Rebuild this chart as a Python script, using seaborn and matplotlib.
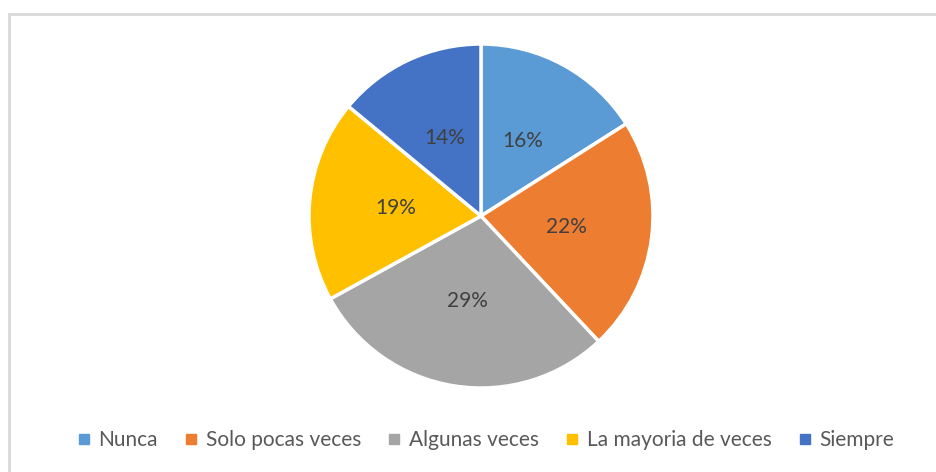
import matplotlib
matplotlib.use("Agg")
import matplotlib.pyplot as plt
import seaborn as sns
from matplotlib.patches import Rectangle
from matplotlib.lines import Line2D

# chart data
categories = ["Nunca", "Solo pocas veces", "Algunas veces", "La mayoria de veces", "Siempre"]
values = [16, 22, 29, 19, 14]
colors = ["#5B9BD5", "#ED7D31", "#A5A5A5", "#FFC000", "#4472C4"]

sns.set_theme(style="white")
plt.rcParams["font.family"] = ["Lato", "DejaVu Sans"]

W, H = 937, 472
fig = plt.figure(figsize=(W / 100, H / 100), dpi=100)

# light grey chart frame (only left and top edges visible)
fig.patches.append(Rectangle((9 / W, -0.1), 1.2, 1.1 - 14 / H, transform=fig.transFigure,
                             fill=False, edgecolor="#D9D9D9", linewidth=2))

# pie axes: centre (481, 216) px, radius 172 px
cx, cy, r = 481, 216, 172
ax = fig.add_axes([(cx - r) / W, (H - cy - r) / H, 2 * r / W, 2 * r / H])
palette = sns.color_palette(colors)
wedges, texts, autotexts = ax.pie(
    values, colors=palette, startangle=90, counterclock=False,
    autopct="%1.0f%%", pctdistance=0.5,
    wedgeprops=dict(edgecolor="white", linewidth=2.5),
    textprops=dict(color="#404040", fontsize=15),
)
ax.set_aspect("equal")
ax.set_xlim(-1, 1)
ax.set_ylim(-1, 1)

handles = [Line2D([0], [0], marker="s", linestyle="none", markersize=7,
                  markerfacecolor=c, markeredgecolor=c) for c in colors]
fig.legend(handles, categories, loc="center", bbox_to_anchor=(486 / W, 1 - 440 / H),
           ncol=5, frameon=False, fontsize=15, labelcolor="#595959",
           handlelength=0.6, handletextpad=0.4, columnspacing=1.3)

fig.savefig("out.png", dpi=100, facecolor="white")
